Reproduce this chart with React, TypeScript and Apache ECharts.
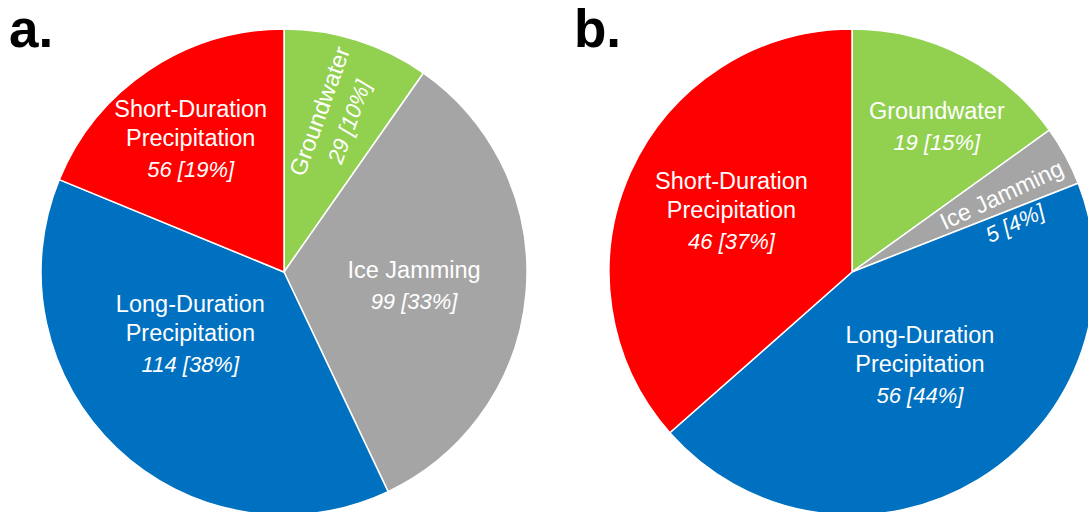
import React, { useEffect, useRef } from 'react';
import * as echarts from 'echarts';

const categories = ['Groundwater', 'Ice Jamming', 'Long-Duration Precipitation', 'Short-Duration Precipitation'];
const valuesA = [29, 99, 114, 56];
const valuesB = [19, 5, 56, 46];
const panelTitles = ['a.', 'b.'];

const colors = ['#92D050', '#A5A5A5', '#0070C0', '#FF0000'];
const FONT = '"Liberation Sans", Arial, sans-serif';

// label placement tweaks (styling only); offsets of rotated labels are in the label's own frame
const labelTweaksA: any[] = [
  { offset: [39, 1], rotate: 70 },
  { offset: [6, 5] },
  { offset: [-8, -27] },
  { offset: [-24, -28] },
];
const labelTweaksB: any[] = [
  { offset: [28, -33] },
  { offset: [44, 18], rotate: 25 },
  { offset: [3, -12] },
  { offset: [-7, -8] },
];

function formatLabel(p: any) {
  const name: string = p.name.replace(' Precipitation', '\nPrecipitation');
  const lines = name.split('\n').map((l) => `{n|${l}}`);
  lines.push(`{v|${p.value} [${Math.round(p.percent)}%]}`);
  return lines.join('\n');
}

function buildSeries(values: number[], tweaks: any[], center: string[]) {
  return {
    type: 'pie',
    radius: 243,
    center,
    startAngle: 90,
    clockwise: true,
    avoidLabelOverlap: false,
    minShowLabelAngle: 0,
    labelLayout: { hideOverlap: false },
    silent: true,
    itemStyle: { borderColor: '#ffffff', borderWidth: 1.5 },
    label: {
      show: true,
      position: 'inside',
      formatter: formatLabel,
      color: '#ffffff',
      fontFamily: FONT,
      rich: {
        n: { fontSize: 23.5, color: '#ffffff', fontFamily: FONT, lineHeight: 29 },
        v: { fontSize: 22, color: '#ffffff', fontFamily: FONT, fontStyle: 'italic', lineHeight: 34 },
      },
    },
    labelLine: { show: false },
    data: values.map((v, i) => ({
      name: categories[i],
      value: v,
      itemStyle: { color: colors[i] },
      label: { offset: tweaks[i].offset, rotate: tweaks[i].rotate ?? 0 },
    })),
  };
}

export default function App() {
  const ref = useRef<HTMLDivElement>(null);
  useEffect(() => {
    document.body.style.margin = '0';
    const chart = echarts.init(ref.current!, undefined, { renderer: 'svg' });
    chart.setOption({
      animation: false,
      backgroundColor: '#ffffff',
      title: [
        {
          text: panelTitles[0],
          left: 9,
          top: 2,
          padding: 0,
          textStyle: { fontSize: 53, fontWeight: 'bold', color: '#000', fontFamily: FONT },
        },
        {
          text: panelTitles[1],
          left: 574,
          top: 2,
          padding: 0,
          textStyle: { fontSize: 53, fontWeight: 'bold', color: '#000', fontFamily: FONT },
        },
      ],
      series: [
        buildSeries(valuesA, labelTweaksA, ['284', '272']),
        buildSeries(valuesB, labelTweaksB, ['852', '272']),
      ],
    });
    return () => chart.dispose();
  }, []);
  return <div ref={ref} style={{ width: 1088, height: 512 }} />;
}
